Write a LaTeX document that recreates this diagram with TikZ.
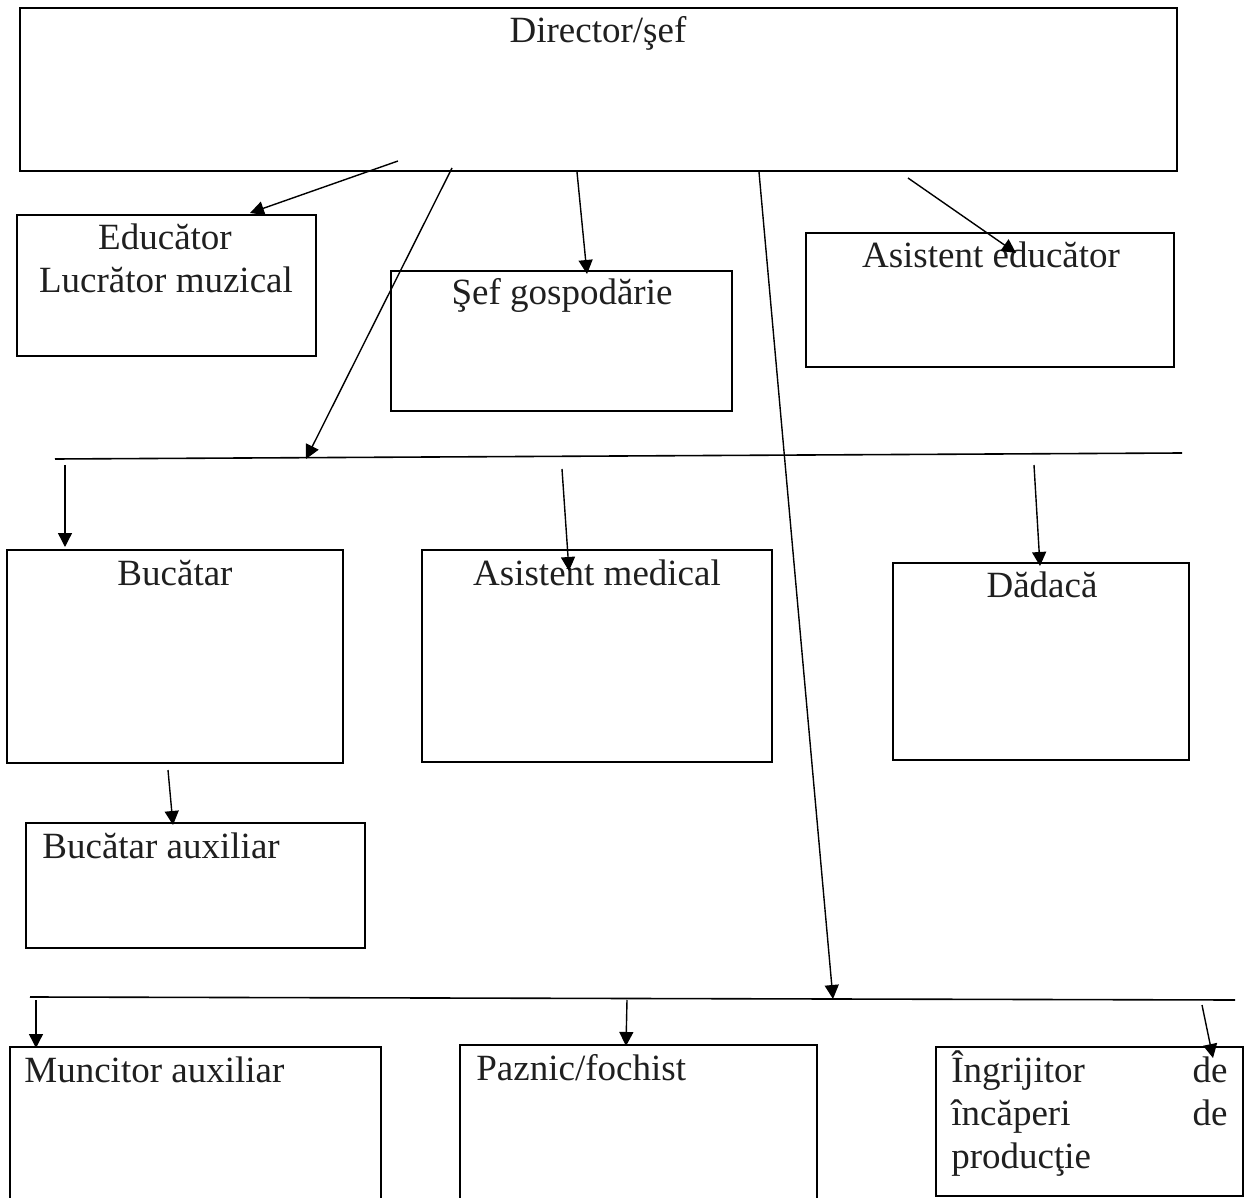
\documentclass[tikz,border=0pt]{standalone}
\usepackage{fontspec}
\setmainfont{Liberation Serif}
\usetikzlibrary{arrows.meta,fit}
\begin{document}
\begin{tikzpicture}[x=0.5pt,y=-0.5pt,
  box/.style={draw, line width=0.7pt, inner sep=0pt},
  lbl/.style={font=\fontsize{18.5}{21.5}\selectfont, inner sep=0pt, text=black!88},
  arr/.style={-{Triangle[length=7pt,width=7pt]}, line width=0.7pt},
  hline/.style={line width=0.8pt}]
\useasboundingbox (0,0) rectangle (1249,1198);
\clip (0,0) rectangle (1249,1198);
% corner coordinates of boxes
\coordinate (dir1) at (20,8);    \coordinate (dir2) at (1177,171);
\coordinate (edu1) at (17,215);  \coordinate (edu2) at (316,356);
\coordinate (sef1) at (391,271); \coordinate (sef2) at (732,411);
\coordinate (asd1) at (806,233); \coordinate (asd2) at (1174,367);
\coordinate (buc1) at (7,550);   \coordinate (buc2) at (343,763);
\coordinate (med1) at (422,550); \coordinate (med2) at (772,762);
\coordinate (dad1) at (893,563); \coordinate (dad2) at (1189,760);
\coordinate (bax1) at (26,823);  \coordinate (bax2) at (365,948);
\coordinate (mun1) at (10,1047); \coordinate (mun2) at (381,1210);
\coordinate (paz1) at (460,1045);\coordinate (paz2) at (817,1210);
\coordinate (ing1) at (936,1047);\coordinate (ing2) at (1243,1196);
% boxes
\node[box, fit=(dir1)(dir2)] (dir) {};
\node[box, fit=(edu1)(edu2)] (edu) {};
\node[box, fit=(sef1)(sef2)] (sef) {};
\node[box, fit=(asd1)(asd2)] (asd) {};
\node[box, fit=(buc1)(buc2)] (buc) {};
\node[box, fit=(med1)(med2)] (med) {};
\node[box, fit=(dad1)(dad2)] (dad) {};
\node[box, fit=(bax1)(bax2)] (bax) {};
\node[box, fit=(mun1)(mun2)] (mun) {};
\node[box, fit=(paz1)(paz2)] (paz) {};
\node[box, fit=(ing1)(ing2)] (ing) {};
% texts
\node[lbl, anchor=base] (tdir) at (598,43) {Director/şef};
\node[lbl, anchor=base] (tedu1) at (165,250) {Educător};
\node[lbl, anchor=base] (tedu2) at (166,293) {Lucrător muzical};
\node[lbl, anchor=base] (tsef) at (562,305) {Şef gospodărie};
\node[lbl, anchor=base] (tasd) at (991,268) {Asistent educător};
\node[lbl, anchor=base] (tbuc) at (175,585) {Bucătar};
\node[lbl, anchor=base] (tmed) at (597,585) {Asistent medical};
\node[lbl, anchor=base] (tdad) at (1042,597) {Dădacă};
\node[lbl, anchor=base west] (tbax) at (42,858) {Bucătar auxiliar};
\node[lbl, anchor=base west] (tmun) at (24,1082) {Muncitor auxiliar};
\node[lbl, anchor=base west] (tpaz) at (476,1080) {Paznic/fochist};
\node[lbl, anchor=base west] (ting1) at (951,1082) {Îngrijitor};
\node[lbl, anchor=base east] (ting1b) at (1228,1082) {de};
\node[lbl, anchor=base west] (ting2) at (951,1125) {încăperi};
\node[lbl, anchor=base east] (ting2b) at (1228,1125) {de};
\node[lbl, anchor=base west] (ting3) at (951,1168) {producţie};
% horizontal bus lines
\coordinate (l1a) at (55,459);
\coordinate (l1b) at (1182,453);
\coordinate (l2a) at (30,997);
\coordinate (l2b) at (1235,1000);
\draw[hline] (l1a) -- (l1b);
\draw[hline] (l2a) -- (l2b);
% arrow endpoints
\coordinate (s1) at (398,161);
\coordinate (e1) at (250,213);
\coordinate (s2) at (452,168);
\coordinate (e2) at (306,459);
\coordinate (s3) at (577,172);
\coordinate (e3) at (587,274);
\coordinate (s4) at (759,172);
\coordinate (e4) at (833,999);
\coordinate (s5) at (908,178);
\coordinate (e5) at (1016,253);
\coordinate (s6) at (65,465);
\coordinate (e6) at (65,547);
\coordinate (s7) at (562,469);
\coordinate (e7) at (569,571);
\coordinate (s8) at (1034,465);
\coordinate (e8) at (1040,566);
\coordinate (s9) at (168,770);
\coordinate (e9) at (173,825);
\coordinate (s10) at (36,1000);
\coordinate (e10) at (36,1048);
\coordinate (s11) at (627,1000);
\coordinate (e11) at (626,1046);
\coordinate (s12) at (1202,1005);
\coordinate (e12) at (1213,1058);
\foreach \i in {1,...,12} {\draw[arr] (s\i) -- (e\i);}
\end{tikzpicture}
\end{document}
